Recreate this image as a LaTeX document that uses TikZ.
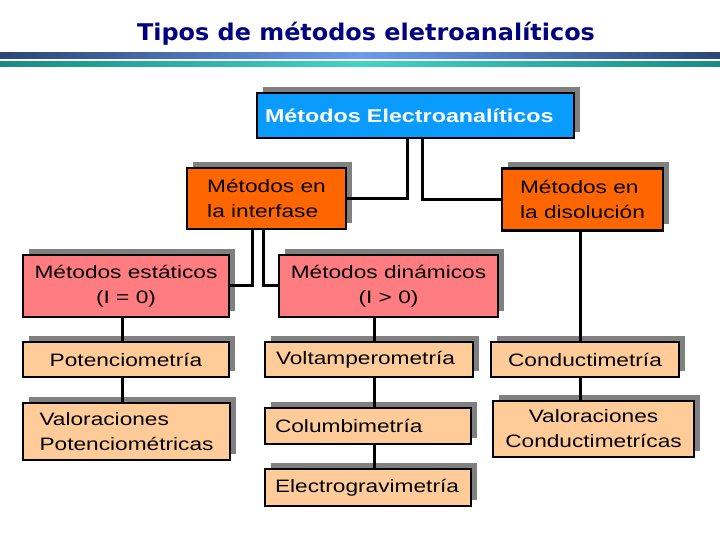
\documentclass[tikz,border=0pt]{standalone}
\usepackage{fontspec}
\setmainfont{Liberation Sans}[FakeStretch=1.26]
\newfontfamily\titlefont{DejaVu Sans}[FakeStretch=1.04]
\usetikzlibrary{shadows}
\usepackage{xcolor}
\definecolor{blueBox}{RGB}{10,155,255}
\definecolor{orangeBox}{RGB}{255,102,0}
\definecolor{pinkBox}{RGB}{255,124,128}
\definecolor{peachBox}{RGB}{255,204,153}
\definecolor{shadowGray}{RGB}{128,128,128}
\definecolor{titleBlue}{RGB}{0,0,128}
\definecolor{lineDark}{RGB}{44,70,118}
\definecolor{lineLight}{RGB}{108,155,236}
\definecolor{tealDark}{RGB}{24,140,132}
\definecolor{tealLight}{RGB}{66,212,196}

\begin{document}
\begin{tikzpicture}[
    x=1pt, y=1pt,
    box/.style={rectangle, draw, line width=2.6pt, inner sep=0pt, align=center,
        font=\fontsize{18}{25}\selectfont,
        drop shadow={shadow xshift=6pt, shadow yshift=6pt, fill=shadowGray, opacity=1}},
    link/.style={line width=3pt}
]
\useasboundingbox (0,0) rectangle (720,540);

% header
\node[font=\titlefont\bfseries\fontsize{23}{26}\selectfont, text=titleBlue] (title) at (366,506) {Tipos de métodos eletroanalíticos};
\shade[left color=lineDark, right color=lineDark, middle color=lineLight] (0,481) rectangle (720,487);
\shade[left color=tealDark, right color=tealDark, middle color=tealLight] (0,473) rectangle (720,478);

\node[box, fill=blueBox, minimum width=317pt, minimum height=45pt, text=white, text width=301pt, align=left,
    font=\bfseries\fontsize{18.5}{22}\selectfont] (top) at (415.5,424.5) {Métodos Electroanalíticos};

\node[box, fill=orangeBox, minimum width=159pt, minimum height=61pt, align=left] (inter) at (266.5,341.5) {Métodos en\\la interfase};
\node[box, fill=orangeBox, minimum width=161pt, minimum height=62pt, align=left] (diso) at (582.5,340.5) {Métodos en\\la disolución};

\node[box, fill=pinkBox, minimum width=206pt, minimum height=62pt] (esta) at (126,254) {Métodos estáticos\\(I = 0)};
\node[box, fill=pinkBox, minimum width=219pt, minimum height=62pt] (dina) at (388.5,254) {Métodos dinámicos\\(I > 0)};

\node[box, fill=peachBox, minimum width=206pt, minimum height=35pt] (pot) at (126,180.5) {Potenciometría};
\node[box, fill=peachBox, minimum width=208pt, minimum height=35pt, text width=186pt, align=left] (volt) at (369,180.5) {Voltamperometría};
\node[box, fill=peachBox, minimum width=188pt, minimum height=35pt] (cond) at (585,180.5) {Conductimetría};

\node[box, fill=peachBox, minimum width=207pt, minimum height=57pt, align=left] (valpot) at (126.5,108.5) {Valoraciones\\Potenciométricas};
\node[box, fill=peachBox, minimum width=206pt, minimum height=36pt, text width=186pt, align=left] (colu) at (368,114) {Columbimetría};
\node[box, fill=peachBox, minimum width=201pt, minimum height=56pt] (valcond) at (593.5,111) {Valoraciones\\Conductimetrícas};
\node[box, fill=peachBox, minimum width=206pt, minimum height=37pt, text width=186pt, align=left] (elec) at (368,52.5) {Electrogravimetría};

% columns of the vertical links
\coordinate (c1) at (122,0);
\coordinate (c2) at (374.5,0);
\coordinate (c3) at (580,0);

\draw[link] ([xshift=-8pt]top.south) |- (inter.east);
\draw[link] ([xshift=7pt]top.south) |- (diso.west);
\draw[link] ([xshift=-14pt]inter.south) |- (esta.east);
\draw[link] ([xshift=-3pt]inter.south) |- (dina.west);

\draw[link] (esta.south -| c1) -- (pot.north -| c1);
\draw[link] (pot.south -| c1) -- (valpot.north -| c1);
\draw[link] (dina.south -| c2) -- (volt.north -| c2);
\draw[link] (volt.south -| c2) -- (colu.north -| c2);
\draw[link] (colu.south -| c2) -- (elec.north -| c2);
\draw[link] (diso.south -| c3) -- (cond.north -| c3);
\draw[link] (cond.south -| c3) -- (valcond.north -| c3);
\end{tikzpicture}
\end{document}
